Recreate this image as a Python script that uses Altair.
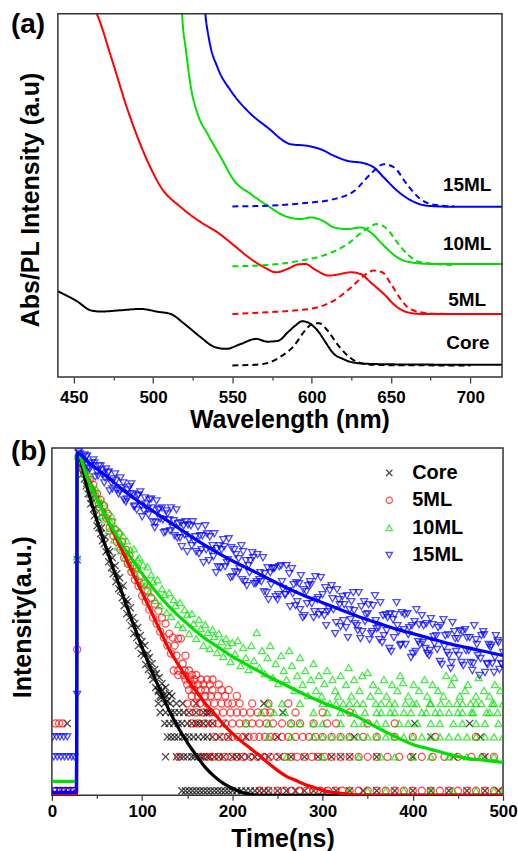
import altair as alt
import pandas as pd

FONT = "Liberation Sans"
SAMPLES = ["Core", "5ML", "10ML", "15ML"]
COLORS = ["#000000", "#ff0000", "#00e000", "#0000ff"]
SHAPES = ["M-1,-1L1,1M-1,1L1,-1", "circle", "triangle-up", "triangle-down"]

# ---------------- (a) absorption (solid) and PL (dashed), offset, arbitrary units ----------------
core_abs_nm = [440, 452, 461, 467, 480, 492, 503, 511, 520, 530, 539, 546, 555, 565, 572, 579, 585, 590, 594, 598, 601, 605, 608, 614, 620, 625, 635, 656, 720]
core_abs_v = [86, 76, 66.7, 65.7, 67, 68.3, 65.5, 63.3, 53, 40, 30, 28.3, 33, 38.3, 35.5, 36.5, 45, 52, 56, 54.5, 51, 44, 36.7, 23.3, 18, 15, 13.3, 12.7, 12.3]
core_pl_nm = [550, 564, 572, 580, 589, 595, 600.5, 604.7, 610, 616, 622.5, 629, 639, 660, 700]
core_pl_v = [11.7, 12.3, 14, 20, 31.7, 45, 53.3, 54, 46.7, 33.3, 21.7, 15, 12.3, 11.8, 11.7]

ml5_abs_nm = [462, 464.7, 473.7, 484.2, 494.6, 505.1, 517.7, 530.3, 540.7, 551.2, 561.7, 570.1, 577.4, 584.7, 591, 596.3, 601.5, 611, 616.2, 624.6, 630.9, 637.1, 645.5, 653.9, 660.2, 668.6, 720]
ml5_abs_v = [372, 363.3, 320, 266.7, 223.3, 190, 170, 155, 145, 131.7, 118.3, 110, 105, 108.3, 112.7, 113.3, 108.3, 101.7, 102.7, 105, 103.3, 95, 83.3, 70, 65, 63.3, 63.3]
ml5_pl_nm = [550, 572, 589, 604, 614, 625, 633, 639, 644.5, 650, 656, 662, 673, 685]
ml5_pl_v = [63.3, 65, 66.7, 70, 76.7, 90, 101.7, 106.7, 105, 93.3, 78.3, 68.3, 64, 63.3]

ml10_abs_nm = [518, 518.3, 520.8, 523.9, 528.2, 534.5, 542.8, 551.2, 561.7, 572.2, 582.7, 593.1, 599.4, 606.8, 614.1, 622.5, 630.9, 637.1, 645.5, 653.9, 662.3, 676.9, 720]
ml10_abs_v = [372, 363.3, 326.7, 290, 263.3, 243.3, 220, 196.7, 183.3, 171.7, 161.7, 158.3, 160, 156.7, 150, 148.3, 150, 145, 131.7, 120, 115, 113.3, 113.3]
ml10_pl_nm = [550, 572, 593, 610, 622.5, 633, 641.4, 647.6, 653.9, 660.2, 668.6, 689.5]
ml10_pl_v = [111, 112.3, 116.7, 123.3, 133.3, 146.7, 153.3, 148.3, 135, 123.3, 115, 112.3]

ml15_abs_nm = [532.5, 533, 535.5, 540.7, 549.1, 559.6, 572.2, 586.8, 597.3, 605.7, 614.1, 622.5, 633, 639.2, 645.5, 653.9, 662.3, 672.8, 687.4, 720]
ml15_abs_v = [372, 363.3, 336.7, 310, 286.7, 266.7, 250, 233.3, 231.7, 228.3, 221.7, 216.7, 214.3, 210, 200, 186.7, 177.3, 171.7, 170.7, 170.7]
ml15_pl_nm = [550, 572, 593, 614, 627, 637, 645.5, 652, 660, 668.6, 677, 690]
ml15_pl_v = [171, 171.7, 174, 178.3, 186.7, 203.3, 213.3, 210, 193.3, 178.3, 172.7, 171]

label_text = ["15ML", "10ML", "5ML", "Core"]
label_nm = [698, 698, 698, 698.5]
label_v = [192, 133, 77, 34]

# ---------------- (b) time-resolved PL, log-intensity in arbitrary units ----------------
core_fit_t = [0, 27.2, 28, 40, 50, 60, 70, 80, 90, 100, 110, 120, 130, 140, 150, 160, 170, 180, 190, 200, 210, 220, 230, 500]
core_fit_v = [1, 1, 343, 305, 275, 248, 222, 197, 172, 148, 126, 105, 85, 68, 53, 40, 28, 19, 12, 7, 3, 1, 0, 0]
ml5_fit_t = [0, 27.2, 28, 40, 50, 60, 70, 80, 90, 100, 110, 120, 130, 140, 150, 160, 170, 180, 190, 200, 210, 220, 230, 240, 250, 260, 270, 280, 290, 300, 310, 320, 330, 345, 500]
ml5_fit_v = [1, 1, 343, 317, 298, 279, 260, 241, 222, 203, 184, 165, 146, 131, 117, 104, 92, 82, 71, 62, 54, 47, 40, 32, 25, 19, 15, 11, 8, 5, 3, 2, 1, 0, 0]
ml10_fit_t = [0, 27.2, 28, 40, 50, 60, 70, 80, 90, 100, 110, 120, 130, 140, 150, 160, 170, 180, 190, 200, 210, 220, 240, 260, 280, 300, 320, 340, 360, 380, 400, 420, 440, 460, 480, 500]
ml10_fit_v = [14, 14, 343, 316, 297, 279, 263, 248, 235, 222, 210, 199, 189, 180, 172, 164, 157, 151, 145, 139, 134, 129, 119, 110, 101, 93, 86, 78, 68, 59, 51, 46, 41, 37, 35, 33]
ml15_fit_t = [0, 27.2, 28, 40, 60, 80, 100, 120, 140, 160, 180, 200, 220, 240, 260, 280, 300, 320, 340, 360, 380, 400, 420, 440, 460, 480, 500]
ml15_fit_v = [3, 3, 343, 334, 320, 305, 292, 280, 268, 256, 245, 235, 226, 217, 208, 200, 193, 186, 179, 173, 167, 162, 157, 152, 148, 144, 140]

# heights of the 1,2,3,... photon-count rows in the tail
count_levels = [4.5, 38.5, 58.5, 72, 83, 92, 99.5, 105.5, 111, 116, 120.5, 125]

core_t = [29, 30, 31, 32, 34, 35, 36, 38, 39, 40, 42, 43, 44, 46, 47, 48, 50, 51, 52, 54, 55, 56, 58, 59, 60, 62, 63, 64, 66, 67, 68, 70, 71, 72, 74, 75, 76, 78, 79, 80, 82, 83, 84, 86, 87, 88, 90, 91, 92, 94, 95, 96, 98, 99, 100, 102, 103, 104, 106, 107, 108, 110, 111, 112, 114, 115, 116, 118, 119, 121, 122, 124, 126, 128, 130, 28, 17]
core_v = [343, 336, 330, 333, 322, 326, 317, 310, 313, 302, 302, 292, 298, 287, 280, 288, 270, 278, 268, 262, 268, 255, 252, 259, 244, 246, 234, 244, 228, 238, 222, 230, 214, 222, 207, 218, 205, 198, 210, 190, 196, 182, 194, 178, 188, 170, 178, 162, 172, 158, 168, 150, 160, 142, 154, 140, 150, 131, 142, 126, 138, 120, 132, 116, 126, 108, 122, 104, 118, 98, 112, 100, 108, 94, 102, 236, 72]
core_counts = {
    8: [118, 122],
    7: [120, 127, 133],
    6: [118, 125, 131, 138, 145, 160, 235],
    5: [120, 126, 132, 136, 141, 146, 152, 160, 168, 172, 175, 256],
    4: [125, 130, 135, 140, 144, 150, 155, 160, 163, 168, 173, 178, 190, 402, 463],
    3: [128, 132, 136, 140, 145, 148, 152, 157, 162, 168, 172, 178, 186, 196, 215, 250, 335, 420, 475],
    2: [126, 138, 142, 146, 150, 155, 158, 162, 165, 168, 172, 175, 180, 185, 190, 200, 205, 210, 218, 225, 232, 240, 252, 265, 280, 295, 310, 320, 330, 360, 400, 445, 480],
    1: [144, 148, 152, 156, 160, 164, 168, 172, 176, 180, 184, 188, 192, 196, 200, 205, 210, 215, 220, 225, 230, 235, 240, 250, 260, 270, 280, 290, 300, 315, 330, 345, 360, 380, 400, 420, 440, 460, 480, 495],
}

ml5_t = [30, 32, 34, 36, 38, 40, 42, 44, 46, 48, 50, 52, 54, 56, 58, 60, 62, 64, 66, 68, 70, 72, 74, 76, 78, 80, 82, 84, 86, 88, 90, 92, 94, 96, 98, 100, 102, 104, 106, 108, 110, 112, 114, 116, 118, 120, 122, 124, 126, 128, 130, 132, 134, 136, 138, 140, 143, 145, 148, 28]
ml5_v = [338, 330, 329, 322, 324, 314, 316, 306, 311, 300, 302, 292, 296, 284, 290, 278, 282, 268, 274, 260, 266, 254, 262, 246, 254, 238, 246, 232, 240, 224, 230, 216, 228, 210, 220, 200, 212, 194, 205, 186, 198, 178, 192, 172, 185, 164, 178, 158, 172, 150, 162, 142, 158, 150, 140, 157, 157, 132, 140, 146]
ml5_counts = {
    12: [135, 140, 147, 152],
    11: [140, 146, 155, 160],
    10: [148, 153, 158, 165, 172, 178],
    9: [150, 156, 162, 168, 175, 185],
    8: [152, 158, 165, 170, 178, 188, 196],
    7: [155, 162, 170, 176, 184, 192, 205],
    6: [150, 158, 164, 172, 180, 188, 195, 200, 208, 222, 240, 262],
    5: [152, 160, 168, 175, 182, 190, 198, 205, 212, 220, 228, 236, 242, 270, 300, 330],
    4: [4, 8, 12, 155, 162, 170, 178, 185, 192, 200, 208, 215, 222, 230, 238, 245, 255, 265, 275, 290, 305, 315, 350, 380],
    3: [180, 188, 195, 200, 206, 212, 218, 224, 230, 236, 242, 248, 255, 262, 270, 278, 285, 292, 300, 310, 320, 330, 345, 360, 380, 400, 425, 470],
    2: [140, 165, 172, 178, 185, 192, 198, 205, 212, 220, 228, 235, 242, 250, 258, 265, 272, 280, 288, 295, 302, 310, 320, 330, 340, 350, 360, 372, 385, 398, 410, 422, 435, 450, 465, 478, 490],
    1: [5, 10, 15, 20, 25, 230, 240, 250, 258, 266, 274, 282, 290, 298, 306, 314, 322, 330, 340, 350, 360, 370, 380, 390, 400, 410, 420, 430, 440, 450, 460, 470, 480, 490, 500],
}

ml10_t = [29, 31, 33, 35, 37, 39, 41, 43, 45, 47, 49, 51, 53, 55, 57, 59, 61, 63, 65, 67, 69, 71, 73, 75, 77, 79, 81, 83, 85, 87, 89, 91, 93, 95, 97, 99, 101, 103, 106, 108, 110, 112, 115, 117, 120, 122, 125, 127, 130, 132, 135, 137, 140, 142, 145, 147, 150, 152, 155, 157, 160, 163, 165, 168, 170, 173, 175, 178, 180, 183, 185, 188, 190, 193, 195, 198, 200, 28]
ml10_v = [340, 331, 336, 322, 329, 313, 321, 303, 309, 296, 307, 288, 296, 280, 293, 276, 286, 265, 274, 279, 256, 268, 249, 264, 245, 260, 238, 255, 233, 246, 228, 247, 221, 236, 238, 213, 231, 210, 229, 203, 221, 214, 195, 216, 190, 207, 201, 183, 203, 179, 196, 190, 171, 193, 168, 186, 181, 162, 182, 172, 157, 176, 167, 150, 171, 163, 147, 166, 159, 143, 162, 154, 139, 157, 150, 134, 153, 239]
ml10_tail_t = [203, 206, 209, 212, 215, 218, 221, 224, 227, 230, 233, 236, 239, 242, 245, 248, 251, 254, 257, 260, 263, 266, 269, 272, 275, 278, 281, 284, 287, 290, 293, 296, 299, 302, 305, 308, 311, 314, 317, 320, 323, 326, 329, 332, 335, 338, 341, 344, 347, 350, 353, 356, 359, 362, 365, 368, 371, 374, 377, 380, 383, 386, 389, 392, 395, 398, 401, 404, 407, 410, 413, 416, 419, 422, 425, 428, 431, 434, 437, 440, 443, 446, 449, 452, 455, 458, 461, 464, 467, 470, 473, 476, 479, 482, 485, 488, 491, 494, 497, 500]
ml10_tail_v = [142, 155, 130, 148, 138, 126, 150, 135, 163, 128, 145, 122, 138, 150, 118, 132, 112, 140, 125, 116, 145, 130, 105, 120, 138, 111, 125, 100, 116, 132, 105, 120, 99.5, 112, 125, 92, 116, 105, 99.5, 120, 92, 111, 128, 99.5, 116, 92, 105, 120, 83, 123, 99.5, 111, 92, 105, 83, 116, 99.5, 92, 111, 83, 105, 120, 113, 92, 99.5, 83, 111, 92, 105, 83, 116, 99.5, 92, 111, 83, 105, 92, 99.5, 120, 83, 111, 118, 92, 99.5, 83, 105, 111, 92, 83, 99.5, 118, 92, 105, 83, 99.5, 92, 111, 83, 105, 92]
ml10_counts = {
    6: [240, 255, 275, 300, 315, 330, 345, 365, 380, 400, 420, 440, 455, 470, 490],
    5: [232, 246, 258, 290, 305, 320, 335, 360, 375, 390, 415, 430, 450, 465, 485],
    4: [215, 240, 265, 275, 290, 300, 320, 335, 345, 360, 370, 385, 395, 405, 420, 430, 445, 455, 470, 480, 495],
    3: [240, 265, 290, 300, 310, 320, 330, 340, 350, 360, 370, 380, 390, 400, 410, 420, 430, 440, 450, 460, 470, 480, 490, 500],
    2: [260, 300, 340, 365, 380, 400, 420, 440, 460, 475, 490],
    1: [330, 350, 370, 390, 420, 445, 470, 490, 500],
}

ml15_t1 = [30, 34, 38, 42, 46, 50, 54, 58, 62, 66, 70, 74, 78, 82, 86, 90, 94, 98, 102, 106, 110, 114, 118, 122, 126, 130, 134, 138, 142, 146, 150, 154, 158, 162, 166, 170, 174, 178, 182, 186, 190, 194, 198, 202, 206, 210, 214, 218, 222, 226, 230, 234, 238, 242, 246, 250, 254, 258, 262, 266, 270, 274, 278, 282, 286, 290, 294, 298, 302, 306, 310, 314, 318, 322, 326, 330, 334, 338, 342, 346, 350, 354, 358, 362, 366, 370, 374, 378, 382, 386, 390, 394, 398, 402, 406, 410, 414, 418, 422, 426, 430, 434, 438, 442, 446, 450, 454, 458, 462, 466, 470, 474, 478, 482, 486, 490, 494, 498]
ml15_v1 = [344, 334, 339, 327, 336, 324, 330, 313, 323, 313, 322, 302, 308, 294, 309, 302, 286, 304, 285, 287, 297, 268, 286, 288, 264, 276, 268, 286, 258, 270, 244, 270, 254, 269, 246, 270, 235, 250, 223, 250, 256, 233, 218, 246, 223, 250, 214, 230, 243, 212, 216, 238, 203, 223, 227, 196, 230, 201, 205, 227, 190, 212, 178, 204, 214, 178, 196, 218, 180, 184, 210, 162, 196, 199, 168, 186, 203, 170, 157, 194, 182, 162, 200, 168, 153, 181, 147, 176, 193, 150, 166, 182, 138, 174, 154, 180, 147, 140, 171, 160, 134, 176, 143, 127, 164, 157, 133, 166, 145, 125, 156, 120, 164, 132, 148, 123, 155, 132]
ml15_t2 = [32, 36, 40, 44, 48, 52, 56, 60, 64, 68, 72, 76, 80, 84, 88, 92, 96, 100, 104, 108, 112, 116, 120, 124, 128, 132, 136, 140, 144, 148, 152, 156, 160, 164, 168, 172, 176, 180, 184, 188, 192, 196, 200, 204, 208, 212, 216, 220, 224, 228, 232, 236, 240, 244, 248, 252, 256, 260, 264, 268, 272, 276, 280, 284, 288, 292, 296, 300, 304, 308, 312, 316, 320, 324, 328, 332, 336, 340, 344, 348, 352, 356, 360, 364, 368, 372, 376, 380, 384, 388, 392, 396, 400, 404, 408, 412, 416, 420, 424, 428, 432, 436, 440, 444, 448, 452, 456, 460, 464, 468, 472, 476, 480, 484, 488, 492, 496, 500, 28]
ml15_v2 = [337, 341, 328, 333, 319, 330, 321, 327, 305, 317, 306, 318, 296, 306, 312, 290, 301, 279, 292, 296, 274, 295, 277, 263, 282, 288, 260, 272, 249, 274, 256, 274, 244, 260, 233, 262, 245, 262, 229, 246, 229, 257, 219, 241, 227, 244, 210, 235, 212, 241, 214, 222, 196, 227, 199, 229, 207, 230, 189, 211, 194, 220, 180, 210, 192, 219, 181, 201, 170, 205, 186, 206, 169, 191, 158, 194, 172, 203, 164, 181, 156, 190, 167, 193, 160, 178, 144, 181, 164, 183, 151, 168, 142, 186, 151, 170, 142, 177, 152, 168, 131, 160, 140, 173, 144, 165, 130, 158, 133, 170, 140, 160, 123, 151, 132, 160, 126, 143, 101]
ml15_t3 = [31, 35, 39, 43, 47, 51, 55, 59, 63, 67, 71, 75, 79, 83, 87, 91, 95, 99, 103, 107, 111, 115, 119, 123, 127, 131, 135, 139, 143, 147, 151, 155, 159, 163, 167, 171, 175, 179, 183, 187, 191, 195, 199, 203, 207, 211, 215, 219, 223, 227, 231, 235, 239, 243, 247, 251, 255, 259, 263, 267, 271, 275, 279, 283, 287, 291, 295, 299, 303, 307, 311, 315, 319, 323, 327, 331, 335, 339, 343, 347, 351, 355, 359, 363, 367, 371, 375, 379, 383, 387, 391, 395, 399, 403, 407, 411, 415, 419, 423, 427, 431, 435, 439, 443, 447, 451, 455, 459, 463, 467, 471, 475, 479, 483, 487, 491, 495, 499]
ml15_v3 = [342, 334, 340, 330, 333, 320, 326, 318, 324, 307, 315, 305, 313, 297, 302, 289, 300, 290, 298, 281, 288, 273, 287, 276, 285, 265, 275, 258, 273, 261, 271, 250, 259, 242, 260, 246, 259, 239, 247, 228, 249, 236, 248, 224, 237, 216, 235, 223, 238, 214, 223, 204, 228, 211, 228, 201, 214, 201, 222, 202, 213, 186, 206, 192, 211, 184, 198, 184, 208, 187, 197, 173, 191, 175, 200, 176, 185, 165, 189, 174, 191, 164, 175, 156, 180, 165, 182, 158, 170, 151, 181, 161, 170, 144, 171, 153, 172, 145, 159, 146, 170, 149, 161, 133, 157, 140, 164, 145, 158, 132, 151, 137, 161, 131, 150, 138, 153, 131]
ml15_counts = {
    3: [1, 5, 9, 13, 17],
    2: [2, 6, 10, 14, 18, 22, 25],
    1: [3, 8, 13, 18, 23],
}

# ---------------- tables ----------------
def line_rows(sample, kind, xs, ys):
    return [{"nm": a, "v": b, "sample": sample, "kind": kind, "series": sample + kind} for a, b in zip(xs, ys)]

abs_rows = []
abs_rows += line_rows("Core", "Abs", core_abs_nm, core_abs_v)
abs_rows += line_rows("Core", "PL", core_pl_nm, core_pl_v)
abs_rows += line_rows("5ML", "Abs", ml5_abs_nm, ml5_abs_v)
abs_rows += line_rows("5ML", "PL", ml5_pl_nm, ml5_pl_v)
abs_rows += line_rows("10ML", "Abs", ml10_abs_nm, ml10_abs_v)
abs_rows += line_rows("10ML", "PL", ml10_pl_nm, ml10_pl_v)
abs_rows += line_rows("15ML", "Abs", ml15_abs_nm, ml15_abs_v)
abs_rows += line_rows("15ML", "PL", ml15_pl_nm, ml15_pl_v)
df_abs = pd.DataFrame(abs_rows)
df_lab = pd.DataFrame({"label": label_text, "nm": label_nm, "v": label_v})

fit_rows = []
for s, ts, vs in [("Core", core_fit_t, core_fit_v), ("5ML", ml5_fit_t, ml5_fit_v),
                  ("10ML", ml10_fit_t, ml10_fit_v), ("15ML", ml15_fit_t, ml15_fit_v)]:
    fit_rows += [{"t": a, "v": b, "sample": s} for a, b in zip(ts, vs)]
df_fit = pd.DataFrame(fit_rows)

pt_rows = []
def add_pts(sample, ts, vs):
    for a, b in zip(ts, vs):
        pt_rows.append({"t": a, "v": b, "sample": sample})
def add_counts(sample, counts):
    for n, ts in counts.items():
        for a in ts:
            pt_rows.append({"t": a, "v": count_levels[n - 1], "sample": sample})

add_pts("Core", core_t, core_v)
add_counts("Core", core_counts)
add_pts("5ML", ml5_t, ml5_v)
add_counts("5ML", ml5_counts)
add_pts("10ML", ml10_t, ml10_v)
add_pts("10ML", ml10_tail_t, ml10_tail_v)
add_counts("10ML", ml10_counts)
add_pts("15ML", ml15_t1, ml15_v1)
add_pts("15ML", ml15_t2, ml15_v2)
add_pts("15ML", ml15_t3, ml15_v3)
add_counts("15ML", ml15_counts)
df_pts = pd.DataFrame(pt_rows)
df_pts["order"] = df_pts["sample"].map({s: i for i, s in enumerate(SAMPLES)})

# ---------------- panel (a) ----------------
color_a = alt.Color("sample:N", scale=alt.Scale(domain=SAMPLES, range=COLORS), legend=None)
xa = alt.X("nm:Q", scale=alt.Scale(domain=[440, 720], range=[6, 451], nice=False, zero=False),
           axis=alt.Axis(values=[450, 475, 500, 525, 550, 575, 600, 625, 650, 675, 700],
                         labelExpr="datum.value % 50 == 0 ? datum.label : ''",
                         tickSize={"condition": {"test": "datum.value % 50 == 0", "value": 6}, "value": 3},
                         labelFontSize=17, labelPadding=6, labelFlush=False,
                         title="Wavelength (nm)", titleFontSize=25, titlePadding=3, titleX=238,
                         domain=False, grid=False))
ya = alt.Y("v:Q", scale=alt.Scale(domain=[0, 364], nice=False, zero=False),
           axis=alt.Axis(labels=False, ticks=False, domain=False, grid=False,
                         title="Abs/PL Intensity (a.u)", titleFontSize=25, titlePadding=8, titleY=186))

frame_a = alt.Chart(pd.DataFrame({"k": [0]})).mark_rect(
    filled=False, stroke="#333333", strokeWidth=1.5
).encode(x=alt.datum(440), x2=alt.datum(720), y=alt.datum(0), y2=alt.datum(364))
lines_a = alt.Chart(df_abs).mark_line(strokeWidth=2, clip=True, interpolate="monotone").encode(
    x=xa, y=ya, color=color_a,
    strokeDash=alt.StrokeDash("kind:N", scale=alt.Scale(domain=["Abs", "PL"], range=[[1, 0], [6, 4]]), legend=None),
    detail="series:N",
)
labels_a = alt.Chart(df_lab).mark_text(font=FONT, fontSize=19, fontWeight="bold", color="black").encode(
    x="nm:Q", y="v:Q", text="label:N")
tag_a = alt.Chart(pd.DataFrame({"tag": ["(a)"]})).mark_text(
    align="left", baseline="top", fontSize=28, fontWeight="bold", font=FONT, color="black"
).encode(text="tag:N", x=alt.value(-41), y=alt.value(-3))

panel_a = alt.layer(lines_a, frame_a, labels_a, tag_a).properties(
    width=451, height=364, view=alt.ViewBackground(stroke=None))

# ---------------- panel (b) ----------------
xb = alt.X("t:Q", scale=alt.Scale(domain=[0, 500], nice=False, zero=False),
           axis=alt.Axis(values=[0, 50, 100, 150, 200, 250, 300, 350, 400, 450, 500],
                         labelExpr="datum.value % 100 == 0 ? datum.label : ''",
                         tickSize={"condition": {"test": "datum.value % 100 == 0", "value": 5}, "value": 3},
                         labelFontSize=17, labelPadding=3, labelFlush=False,
                         title="Time(ns)", titleFontSize=25, titlePadding=7, titleX=231,
                         domain=False, grid=False))
yb = alt.Y("v:Q", scale=alt.Scale(domain=[0, 348], nice=False, zero=False),
           axis=alt.Axis(labels=False, ticks=False, domain=False, grid=False,
                         title="Intensity(a.u.)", titleFontSize=25, titlePadding=16, titleY=169))

pts_b = alt.Chart(df_pts).mark_point(filled=False, size=50, strokeWidth=1.3, clip=True).encode(
    x=xb, y=yb,
    color=alt.Color("sample:N", scale=alt.Scale(domain=SAMPLES, range=COLORS),
                    legend=alt.Legend(orient="none", legendX=328, legendY=15, title=None,
                                      labelFont=FONT, labelFontSize=20, labelFontWeight="bold",
                                      labelColor="black", symbolSize=40, symbolStrokeWidth=1.3,
                                      rowPadding=7.5, labelOffset=13, padding=0, labelLimit=200)),
    shape=alt.Shape("sample:N", scale=alt.Scale(domain=SAMPLES, range=SHAPES)),
    order=alt.Order("order:Q"),
)
fits_b = alt.Chart(df_fit).mark_line(strokeWidth=3.2, clip=True, interpolate="monotone").encode(
    x="t:Q", y="v:Q",
    color=alt.Color("sample:N", scale=alt.Scale(domain=SAMPLES, range=COLORS), legend=None),
    detail="sample:N",
)
tag_b = alt.Chart(pd.DataFrame({"tag": ["(b)"]})).mark_text(
    align="left", baseline="top", fontSize=28, fontWeight="bold", font=FONT, color="black"
).encode(text="tag:N", x=alt.value(-41), y=alt.value(-10))

panel_b = alt.layer(pts_b, fits_b, tag_b).properties(width=452, height=348)

chart = alt.concat(panel_a, panel_b, columns=1, spacing=4).resolve_scale(
    color="independent", shape="independent", strokeDash="independent"
).properties(
    padding={"left": 10, "top": 10, "right": 0, "bottom": 0}
).configure_view(
    stroke="#333333", strokeWidth=1.5
).configure_axis(
    labelFont=FONT, titleFont=FONT, labelFontWeight="bold", titleFontWeight="bold",
    labelColor="black", titleColor="black", tickColor="#333333", tickWidth=1.2
)

chart.save("out.html", embed_options={"renderer": "svg", "actions": False})
